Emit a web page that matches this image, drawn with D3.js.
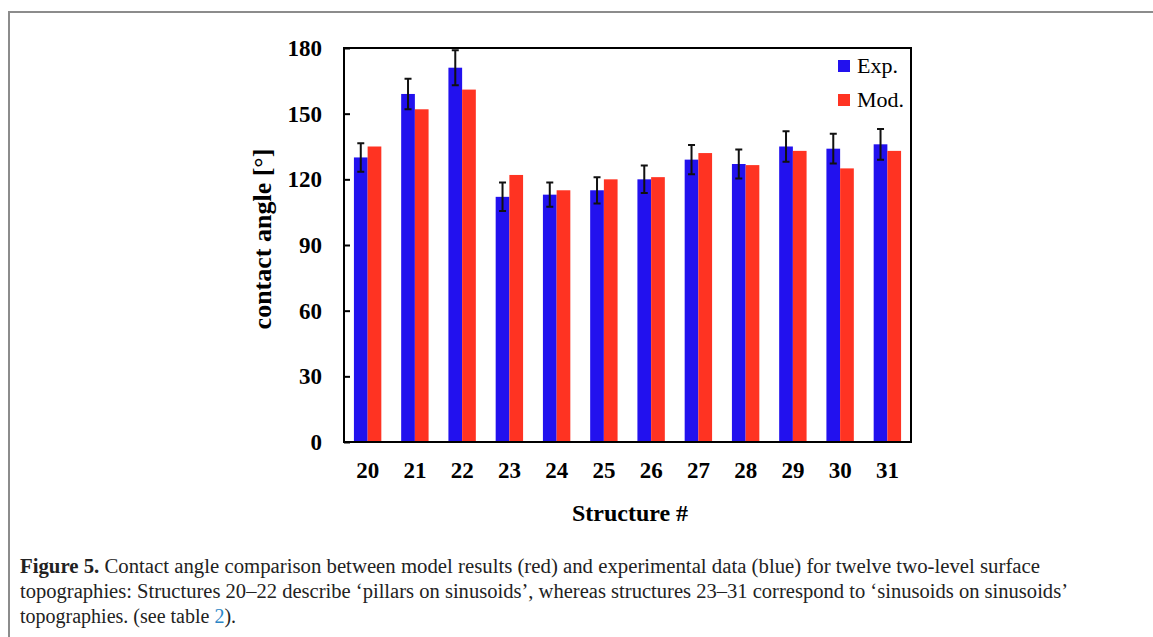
<!DOCTYPE html>
<html>
<head>
<meta charset="utf-8">
<script src="https://cdn.jsdelivr.net/npm/d3@7"></script>
<style>
    body { margin: 0; background: #fff; }
</style>
</head>
<body>
<div id="fig"></div>
<script>

// data
const structures = ['20', '21', '22', '23', '24', '25', '26', '27', '28', '29', '30', '31'];
const expValues = [130, 159, 171, 112, 113, 115, 120, 129, 127, 135, 134, 136];
const modValues = [135, 152, 161, 122, 115, 120, 121, 132, 126.5, 133, 125, 133];
const expErrors = [6.5, 7, 8, 6.5, 5.5, 6, 6.3, 6.7, 6.6, 7, 6.8, 7];
const yTicks = [0, 30, 60, 90, 120, 150, 180];
const seriesNames = ['Exp.', 'Mod.'];

const captionLines = [
    [{t: 'Figure 5.', b: true}, {t: ' Contact angle comparison between model results (red) and experimental data (blue) for twelve two-level surface'}],
    [{t: 'topographies: Structures 20\u201322 describe \u2018pillars on sinusoids\u2019, whereas structures 23\u201331 correspond to \u2018sinusoids on sinusoids\u2019'}],
    [{t: 'topographies. (see table '}, {t: '2', link: true}, {t: ').'}]
];

drawChart();

function drawChart() {

    const width = 1153;
    const height = 637;
    const margin = {top: 48, right: 242, bottom: 195, left: 344};

    const blue = '#2211ee';
    const red = '#ff3322';
    const serif = '"Liberation Serif", "Times New Roman", serif';

    const svg = d3.select('#fig')
        .append('svg')
            .attr('width', width)
            .attr('height', height)
            .attr('viewBox', [0, 0, width, height]);

    // page frame (grey border of the figure box)
    svg.append('path')
        .attr('d', `M9,${height} V12 H${width}`)
        .attr('fill', 'none')
        .attr('stroke', '#8c8c8c')
        .attr('stroke-width', 2);

    // SCALES
    const x = d3.scaleBand()
        .domain(structures)
        .range([margin.left, width - margin.right])
        .paddingInner(0.42)
        .paddingOuter(0.21);
    const xSub = d3.scaleBand()
        .domain(seriesNames)
        .range([0, x.bandwidth()]);
    const y = d3.scaleLinear()
        .domain([0, 180])
        .range([height - margin.bottom, margin.top]);

    // AXES
    const yx = g =>
        g
            .attr('transform', `translate(${margin.left},0)`)
            .call(d3.axisRight(y)
                .tickValues(yTicks)
                .tickSize(6)
                .tickPadding(-28))
            .call(g => g.select('.domain').remove())
            .call(g => g.selectAll('.tick line')
                .attr('stroke', '#000')
                .attr('stroke-width', 2))
            .call(g => g.selectAll('.tick text')
                .attr('text-anchor', 'end')
                .attr('font-family', serif)
                .attr('font-weight', 'bold')
                .attr('font-size', 23)
                .attr('fill', '#000'));
    const xx = g =>
        g
            .attr('transform', `translate(0,${height - margin.bottom})`)
            .call(d3.axisBottom(x)
                .tickSize(0)
                .tickPadding(20))
            .call(g => g.select('.domain').remove())
            .call(g => g.selectAll('.tick text')
                .attr('font-family', serif)
                .attr('font-weight', 'bold')
                .attr('font-size', 23)
                .attr('fill', '#000'));

    // DRAWING
    // bars
    const groups = svg.append('g')
            .attr('id', 'bars')
        .selectAll('g')
        .data(structures)
        .join('g')
            .attr('transform', d => `translate(${x(d)},0)`);

    groups.append('rect')
        .attr('x', xSub('Exp.'))
        .attr('y', (d, i) => y(expValues[i]))
        .attr('width', xSub.bandwidth())
        .attr('height', (d, i) => y(0) - y(expValues[i]))
        .attr('fill', blue);

    groups.append('rect')
        .attr('x', xSub('Mod.'))
        .attr('y', (d, i) => y(modValues[i]))
        .attr('width', xSub.bandwidth())
        .attr('height', (d, i) => y(0) - y(modValues[i]))
        .attr('fill', red);

    // error bars on experimental data
    const cx = xSub('Exp.') + xSub.bandwidth() / 2;
    const capW = 3.5;
    groups.append('path')
        .attr('fill', 'none')
        .attr('stroke', '#111')
        .attr('stroke-width', 2)
        .attr('d', (d, i) => {
            const top = y(expValues[i] + expErrors[i]);
            const bot = y(expValues[i] - expErrors[i]);
            return `M${cx},${top} V${bot}` +
                `M${cx - capW},${top} H${cx + capW}` +
                `M${cx - capW},${bot} H${cx + capW}`;
        });

    // plot frame
    svg.append('rect')
        .attr('x', margin.left)
        .attr('y', margin.top)
        .attr('width', width - margin.right - margin.left)
        .attr('height', height - margin.bottom - margin.top)
        .attr('fill', 'none')
        .attr('stroke', '#000')
        .attr('stroke-width', 2);

    svg.append('g').call(yx);
    svg.append('g').call(xx);

    // axis titles
    svg.append('text')
        .attr('transform', `translate(271,${(margin.top + height - margin.bottom) / 2 - 6}) rotate(-90)`)
        .attr('text-anchor', 'middle')
        .attr('font-family', serif)
        .attr('font-weight', 'bold')
        .attr('font-size', 26)
        .text('contact angle [\u00b0]');

    svg.append('text')
        .attr('x', 630)
        .attr('y', 521)
        .attr('text-anchor', 'middle')
        .attr('font-family', serif)
        .attr('font-weight', 'bold')
        .attr('font-size', 24)
        .text('Structure #');

    // legend
    const legend = svg.append('g')
        .attr('transform', `translate(838,60)`);
    const legItems = legend.selectAll('g')
        .data(seriesNames)
        .join('g')
            .attr('transform', (d, i) => `translate(0,${i * 34})`);
    legItems.append('rect')
        .attr('width', 12)
        .attr('height', 12)
        .attr('fill', (d, i) => i === 0 ? blue : red);
    legItems.append('text')
        .attr('x', 19)
        .attr('y', 13)
        .attr('font-family', serif)
        .attr('font-size', 22)
        .text(d => d);

    // CAPTION
    const capEnds = [1040, 1068, null];
    const caption = svg.append('g')
        .attr('font-family', serif)
        .attr('font-size', 20)
        .attr('fill', '#222');
    captionLines.forEach((line, i) => {
        const t = caption.append('text')
            .attr('x', 20)
            .attr('y', 573 + i * 25);
        if (capEnds[i]) {
            t.attr('textLength', capEnds[i] - 20)
             .attr('lengthAdjust', 'spacingAndGlyphs');
        }
        line.forEach(part => {
            t.append('tspan')
                .attr('font-weight', part.b ? 'bold' : null)
                .attr('fill', part.link ? '#2b86c6' : null)
                .text(part.t);
        });
    });
}
</script>
</body>
</html>
